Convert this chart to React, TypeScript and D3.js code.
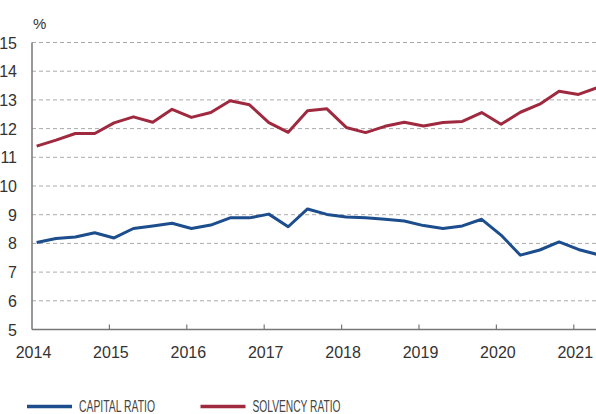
import * as React from 'react';
import * as d3 from 'd3';

// quarterly observations, 2014Q1 .. 2021Q2
const startYear = 2014;
const capitalRatio = [
  8.03, 8.17, 8.22, 8.37, 8.19, 8.52, 8.61, 8.7, 8.52, 8.64, 8.89, 8.89, 9.02, 8.58,
  9.2, 9.01, 8.92, 8.89, 8.84, 8.78, 8.62, 8.52, 8.61, 8.84, 8.29, 7.59, 7.77, 8.05,
  7.79, 7.61
];
const solvencyRatio = [
  11.39, 11.6, 11.83, 11.83, 12.2, 12.41, 12.22, 12.67, 12.39, 12.56, 12.97, 12.83,
  12.21, 11.87, 12.62, 12.69, 12.04, 11.86, 12.08, 12.22, 12.09, 12.21, 12.25, 12.56,
  12.15, 12.57, 12.85, 13.3, 13.19, 13.43
];
const yearTicks = [2014, 2015, 2016, 2017, 2018, 2019, 2020, 2021];
const valueTicks = [5, 6, 7, 8, 9, 10, 11, 12, 13, 14, 15];
const legendItems = [
  { label: 'CAPITAL RATIO', color: '#1c4d8d' },
  { label: 'SOLVENCY RATIO', color: '#9f2a40' }
];

const W = 596;
const H = 414;

export default function App() {
  const x = React.useMemo(
    () => d3.scaleLinear().domain([2014, 2021.3]).range([32, 597]),
    []
  );
  const y = React.useMemo(
    () => d3.scaleLinear().domain([5, 15]).range([329.5, 42.5]),
    []
  );
  const toT = (i: number) => startYear + 0.06 + i * 0.25;
  const line = d3
    .line<number>()
    .x((_, i) => x(toT(i)))
    .y(d => y(d));

  const font = 'Liberation Sans, Arial, sans-serif';

  return (
    <svg
      width={W}
      height={H}
      style={{ position: 'absolute', left: 0, top: 0 }}
    >
      <rect width={W} height={H} fill="#fff" />
      {valueTicks.slice(1).map(v => (
        <line
          key={v}
          x1={x(2014)}
          x2={W}
          y1={y(v)}
          y2={y(v)}
          stroke="#aaa"
          strokeWidth={1}
          strokeDasharray="4,3"
        />
      ))}
      <g fontFamily={font} fontSize={16} fill="#333">
        {valueTicks.map(v => (
          <text key={v} x={17} y={y(v) + 6} textAnchor="end">
            {v}
          </text>
        ))}
        {yearTicks.map(t => (
          <text key={t} x={x(t) + 1.5} y={358} textAnchor="middle">
            {t}
          </text>
        ))}
        <text x={33} y={29} fontSize={15}>
          %
        </text>
      </g>
      <line x1={x(2014)} x2={x(2014)} y1={y(15)} y2={y(5)} stroke="#777" strokeWidth={1.5} />
      <line x1={x(2014)} x2={W} y1={y(5)} y2={y(5)} stroke="#777" strokeWidth={1.5} />
      {yearTicks.slice(1).map(t => (
        <line key={t} x1={x(t)} x2={x(t)} y1={y(5)} y2={y(5) - 5} stroke="#777" strokeWidth={1.2} />
      ))}
      <path d={line(solvencyRatio) || ''} fill="none" stroke={legendItems[1].color} strokeWidth={3} strokeLinejoin="round" />
      <path d={line(capitalRatio) || ''} fill="none" stroke={legendItems[0].color} strokeWidth={3} strokeLinejoin="round" />
      {legendItems.map((item, i) => {
        const lx = 27 + i * 173.5;
        return (
          <g key={item.label}>
            <line x1={lx} x2={lx + 45} y1={406.5} y2={406.5} stroke={item.color} strokeWidth={3.5} />
            <text
              x={lx + 52}
              y={412}
              fontFamily="Liberation Sans Narrow, Arial Narrow, sans-serif"
              fontSize={16}
              fill="#444"
              textLength={i === 0 ? 76 : 88}
              lengthAdjust="spacingAndGlyphs"
            >
              {item.label}
            </text>
          </g>
        );
      })}
    </svg>
  );
}
